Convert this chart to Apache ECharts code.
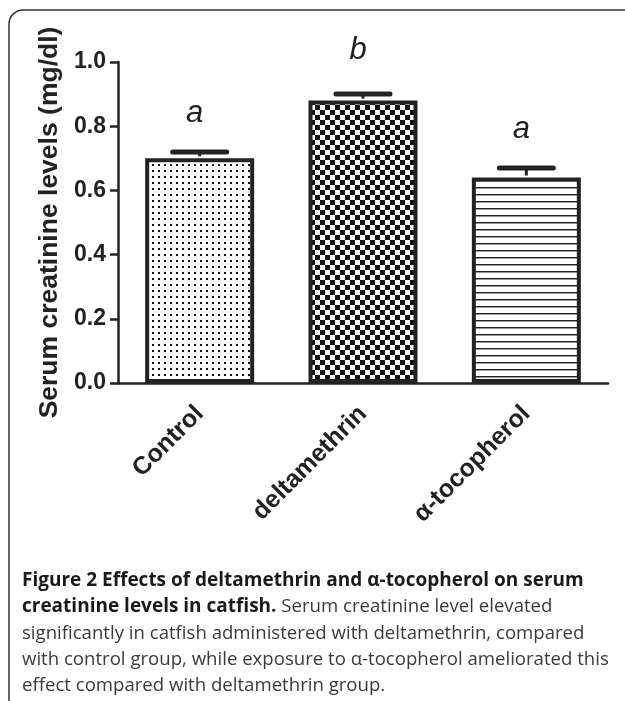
<!DOCTYPE html>
<html>
<head>
<meta charset="utf-8">
<script src="https://cdn.jsdelivr.net/npm/echarts@6/dist/echarts.min.js"></script>
<style>
  html, body { margin: 0; padding: 0; background: #fff; }
  #chart { width: 625px; height: 701px; }
</style>
</head>
<body>
<div id="chart"></div>
<script>
// data
var groups = ['Control', 'deltamethrin', 'α-tocopherol'];
var means = [0.70, 0.88, 0.64];
var errors = [0.02, 0.02, 0.03];
var letters = ['a', 'b', 'a'];
var yTicks = [0.0, 0.2, 0.4, 0.6, 0.8, 1.0];

var captionLines = [
  [{b: 'Figure 2 Effects of deltamethrin and α-tocopherol on serum'}],
  [{b: 'creatinine levels in catfish.'}, {r: ' Serum creatinine level elevated'}],
  [{r: 'significantly in catfish administered with deltamethrin, compared'}],
  [{r: 'with control group, while exposure to α-tocopherol ameliorated this'}],
  [{r: 'effect compared with deltamethrin group.'}]
];

var ink = '#222';
var font = 'Liberation Sans, Arial, sans-serif';

function makePattern(w, h, draw) {
  var c = document.createElement('canvas');
  c.width = w;
  c.height = h;
  var ctx = c.getContext('2d');
  ctx.fillStyle = '#fff';
  ctx.fillRect(0, 0, w, h);
  draw(ctx);
  return {image: c, repeat: 'repeat'};
}

// dots, checkerboard, horizontal lines
var fills = [
  makePattern(6, 6, function (ctx) {
    ctx.fillStyle = '#111';
    ctx.fillRect(2, 2, 2, 2);
  }),
  makePattern(10, 10, function (ctx) {
    ctx.fillStyle = '#111';
    ctx.fillRect(0, 0, 5, 5);
    ctx.fillRect(5, 5, 5, 5);
  }),
  makePattern(4, 7, function (ctx) {
    ctx.fillStyle = '#222';
    ctx.fillRect(0, 5, 4, 1);
    ctx.fillStyle = '#999';
    ctx.fillRect(0, 6, 4, 1);
  })
];

var barData = means.map(function (v, i) {
  return {value: v, itemStyle: {color: fills[i]}};
});
var errData = means.map(function (v, i) {
  return [i, v, errors[i]];
});

var captionGraphics = captionLines.map(function (parts, i) {
  var text = parts.map(function (p) {
    return p.b !== undefined ? '{b|' + p.b + '}' : '{r|' + p.r + '}';
  }).join('');
  return {
    type: 'text',
    left: 22,
    top: 571 + i * 26.4,
    silent: true,
    style: {
      text: text,
      rich: {
        b: {font: 'bold 19px "Open Sans"', fill: '#1a1a1a'},
        r: {font: '18.6px "Open Sans"', fill: '#3a3a3a'}
      }
    }
  };
});

var myChart = echarts.init(document.getElementById('chart'));

var option = {
  backgroundColor: '#fff',
  animation: false,
  grid: {left: 118, right: 17, top: 62, bottom: 318},
  graphic: [
    {
      type: 'rect',
      silent: true,
      z: -1,
      shape: {x: 9, y: 10, width: 700, height: 760, r: [14, 0, 0, 0]},
      style: {fill: 'none', stroke: '#333', lineWidth: 1.5}
    }
  ].concat(captionGraphics),
  xAxis: {
    type: 'category',
    data: groups,
    axisLine: {lineStyle: {color: ink, width: 2.5}},
    axisTick: {alignWithLabel: true, length: 10, lineStyle: {color: ink, width: 2.5}},
    axisLabel: {
      rotate: 45,
      margin: 27,
      color: ink,
      fontFamily: font,
      fontWeight: 'bold',
      fontSize: 25
    }
  },
  yAxis: {
    type: 'value',
    min: yTicks[0],
    max: yTicks[yTicks.length - 1],
    interval: 0.2,
    name: 'Serum creatinine levels (mg/dl)',
    nameLocation: 'middle',
    nameRotate: 90,
    nameGap: 55,
    nameTextStyle: {color: ink, fontFamily: font, fontWeight: 'bold', fontSize: 26.5},
    splitLine: {show: false},
    axisLine: {show: true, lineStyle: {color: ink, width: 2.5}},
    axisTick: {show: true, length: 8, lineStyle: {color: ink, width: 2.5}},
    axisLabel: {
      margin: 12,
      color: ink,
      fontFamily: font,
      fontWeight: 'bold',
      fontSize: 23,
      formatter: function (v) { return v.toFixed(1); }
    }
  },
  series: [
    {
      type: 'bar',
      data: barData,
      barWidth: 109,
      itemStyle: {borderColor: ink, borderWidth: 4}
    },
    {
      type: 'custom',
      data: errData,
      z: 5,
      renderItem: function (params, api) {
        var i = api.value(0);
        var v = api.value(1);
        var e = api.value(2);
        var base = api.coord([i, v]);
        var top = api.coord([i, v + e]);
        var gap = letters[params.dataIndex] === 'b' ? 44 : 39;
        return {
          type: 'group',
          children: [
            {
              type: 'line',
              shape: {x1: base[0], y1: base[1] - 2, x2: top[0], y2: top[1]},
              style: {stroke: ink, lineWidth: 3}
            },
            {
              type: 'line',
              shape: {x1: top[0] - 27, y1: top[1], x2: top[0] + 27, y2: top[1]},
              style: {stroke: ink, lineWidth: 5, lineCap: 'round'}
            },
            {
              type: 'text',
              x: top[0] - 5,
              y: top[1] - gap,
              style: {
                text: letters[params.dataIndex],
                font: 'italic 31px ' + font,
                fill: ink,
                align: 'center',
                verticalAlign: 'middle'
              }
            }
          ]
        };
      }
    }
  ]
};

myChart.setOption(option);
window.addEventListener('resize', function () {
  myChart.resize();
});
</script>
</body>
</html>
